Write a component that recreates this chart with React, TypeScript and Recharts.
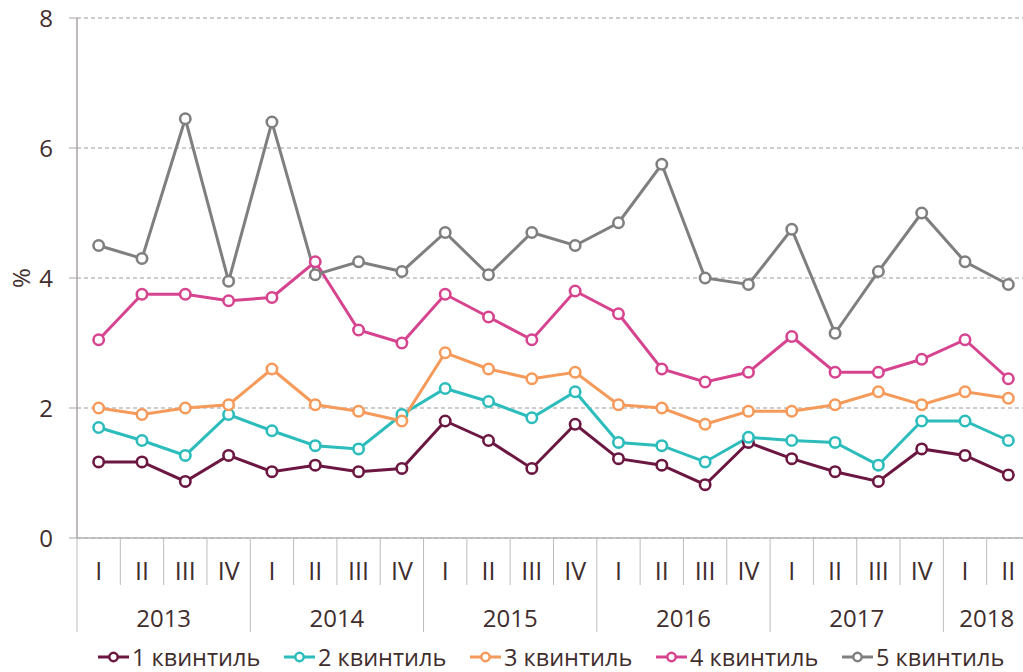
import React from "react";
import {
  LineChart,
  Line,
  XAxis,
  YAxis,
  CartesianGrid,
  Legend,
  Label,
} from "recharts";

const quarters = ["I", "II", "III", "IV", "I", "II", "III", "IV", "I", "II", "III", "IV", "I", "II", "III", "IV", "I", "II", "III", "IV", "I", "II"];
const years = ["2013", "2013", "2013", "2013", "2014", "2014", "2014", "2014", "2015", "2015", "2015", "2015", "2016", "2016", "2016", "2016", "2017", "2017", "2017", "2017", "2018", "2018"];

const quintile1 = [1.17, 1.17, 0.87, 1.27, 1.02, 1.12, 1.02, 1.07, 1.8, 1.5, 1.07, 1.75, 1.22, 1.12, 0.82, 1.47, 1.22, 1.02, 0.87, 1.37, 1.27, 0.97];
const quintile2 = [1.7, 1.5, 1.27, 1.9, 1.65, 1.42, 1.37, 1.9, 2.3, 2.1, 1.85, 2.25, 1.47, 1.42, 1.17, 1.55, 1.5, 1.47, 1.12, 1.8, 1.8, 1.5];
const quintile3 = [2.0, 1.9, 2.0, 2.05, 2.6, 2.05, 1.95, 1.8, 2.85, 2.6, 2.45, 2.55, 2.05, 2.0, 1.75, 1.95, 1.95, 2.05, 2.25, 2.05, 2.25, 2.15];
const quintile4 = [3.05, 3.75, 3.75, 3.65, 3.7, 4.25, 3.2, 3.0, 3.75, 3.4, 3.05, 3.8, 3.45, 2.6, 2.4, 2.55, 3.1, 2.55, 2.55, 2.75, 3.05, 2.45];
const quintile5 = [4.5, 4.3, 6.45, 3.95, 6.4, 4.05, 4.25, 4.1, 4.7, 4.05, 4.7, 4.5, 4.85, 5.75, 4.0, 3.9, 4.75, 3.15, 4.1, 5.0, 4.25, 3.9];

const seriesNames = ["1 квинтиль", "2 квинтиль", "3 квинтиль", "4 квинтиль", "5 квинтиль"];
const yTicks = [0, 2, 4, 6, 8];

const colors = ["#6b1741", "#2cbcbc", "#f59a5a", "#d6448f", "#7f7f7f"];
const TEXT = "#3f2d2d";
const FONT = "'Open Sans', sans-serif";

const data = quarters.map((q, i) => ({
  key: `${years[i]} ${q}`,
  q,
  year: years[i],
  q1: quintile1[i],
  q2: quintile2[i],
  q3: quintile3[i],
  q4: quintile4[i],
  q5: quintile5[i],
}));

const PLOT_W = 953;
const BAND = PLOT_W / data.length;

// quarter label + separators, year label drawn once under each year group
const QuarterTick = (props: any) => {
  const { x, y, payload } = props;
  const i = payload.index ?? props.index;
  const row = data[i];
  const half = payload.offset || BAND / 2;
  const left = x - half;
  const yearStart = i === 0 || data[i - 1].year !== row.year;
  const count = data.filter((d) => d.year === row.year).length;
  return (
    <g>
      <line x1={left} x2={left} y1={y} y2={y + (yearStart ? 94 : 47)} stroke="#bcbcbc" strokeWidth={1} />
      <text x={x} y={y + 42} textAnchor="middle" fill={TEXT} fontSize={25} fontFamily={FONT}>
        {row.q}
      </text>
      {yearStart && (
        <text x={left + count * half} y={y + 89} textAnchor="middle" fill={TEXT} fontSize={24} fontFamily={FONT}>
          {row.year}
        </text>
      )}
    </g>
  );
};

const LegendContent = ({ payload }: any) => (
  <div style={{ display: "flex", paddingLeft: 98, height: 24, alignItems: "center", fontFamily: FONT }}>
    {(payload || []).map((item: any) => (
      <div key={item.value} style={{ display: "flex", alignItems: "center", width: 186, height: 24 }}>
        <svg width={31} height={14}>
          <line x1={0} x2={31} y1={7} y2={7} stroke={item.color} strokeWidth={3} />
          <circle cx={15.5} cy={7} r={4.2} fill="#fff" stroke={item.color} strokeWidth={2.5} />
        </svg>
        <span style={{ marginLeft: 3, fontSize: 23.5, lineHeight: "24px", color: TEXT, whiteSpace: "nowrap" }}>
          {item.value}
        </span>
      </div>
    ))}
  </div>
);

export default function App() {
  const keys = ["q1", "q2", "q3", "q4", "q5"];
  return (
    <div
      style={{
        position: "absolute",
        left: 0,
        top: 0,
        width: 1023,
        height: 672,
        overflow: "hidden",
        background: "#fff",
      }}
    >
      <LineChart width={1040} height={672} data={data} margin={{ top: 18, right: 10, left: 0, bottom: 0 }}>
        <CartesianGrid vertical={false} stroke="#9b9b9b" strokeDasharray="4 3" />
        <XAxis
          dataKey="key"
          scale="band"
          interval={0}
          tickLine={false}
          tickSize={0}
          tickMargin={0}
          height={110}
          axisLine={{ stroke: "#b5b5b5", strokeWidth: 1.5 }}
          tick={QuarterTick}
        />
        <YAxis
          width={77}
          domain={[0, 8]}
          ticks={yTicks}
          interval={0}
          tickSize={8}
          tickMargin={16}
          axisLine={{ stroke: "#a8a3a3", strokeWidth: 1.5 }}
          tickLine={{ stroke: "#a8a3a3" }}
          tick={{ fill: TEXT, fontSize: 24, fontFamily: FONT }}
        >
          <Label
            content={(p: any) => {
              const vb = p.viewBox || {};
              const cy = (vb.y ?? 18) + (vb.height ?? 520) / 2;
              return (
                <text
                  transform={`translate(30, ${cy}) rotate(-90)`}
                  textAnchor="middle"
                  fill={TEXT}
                  fontSize={24}
                  fontFamily={FONT}
                >
                  %
                </text>
              );
            }}
          />
        </YAxis>
        <Legend
          verticalAlign="bottom"
          content={LegendContent}
          wrapperStyle={{ left: 0, width: 1040, top: 645 }}
        />
        {keys.map((k, i) => (
          <Line
            key={k}
            dataKey={k}
            name={seriesNames[i]}
            stroke={colors[i]}
            strokeWidth={3}
            dot={{ r: 5.2, strokeWidth: 2.6, fill: "#fff", stroke: colors[i] }}
            activeDot={false}
            isAnimationActive={false}
          />
        ))}
      </LineChart>
    </div>
  );
}
